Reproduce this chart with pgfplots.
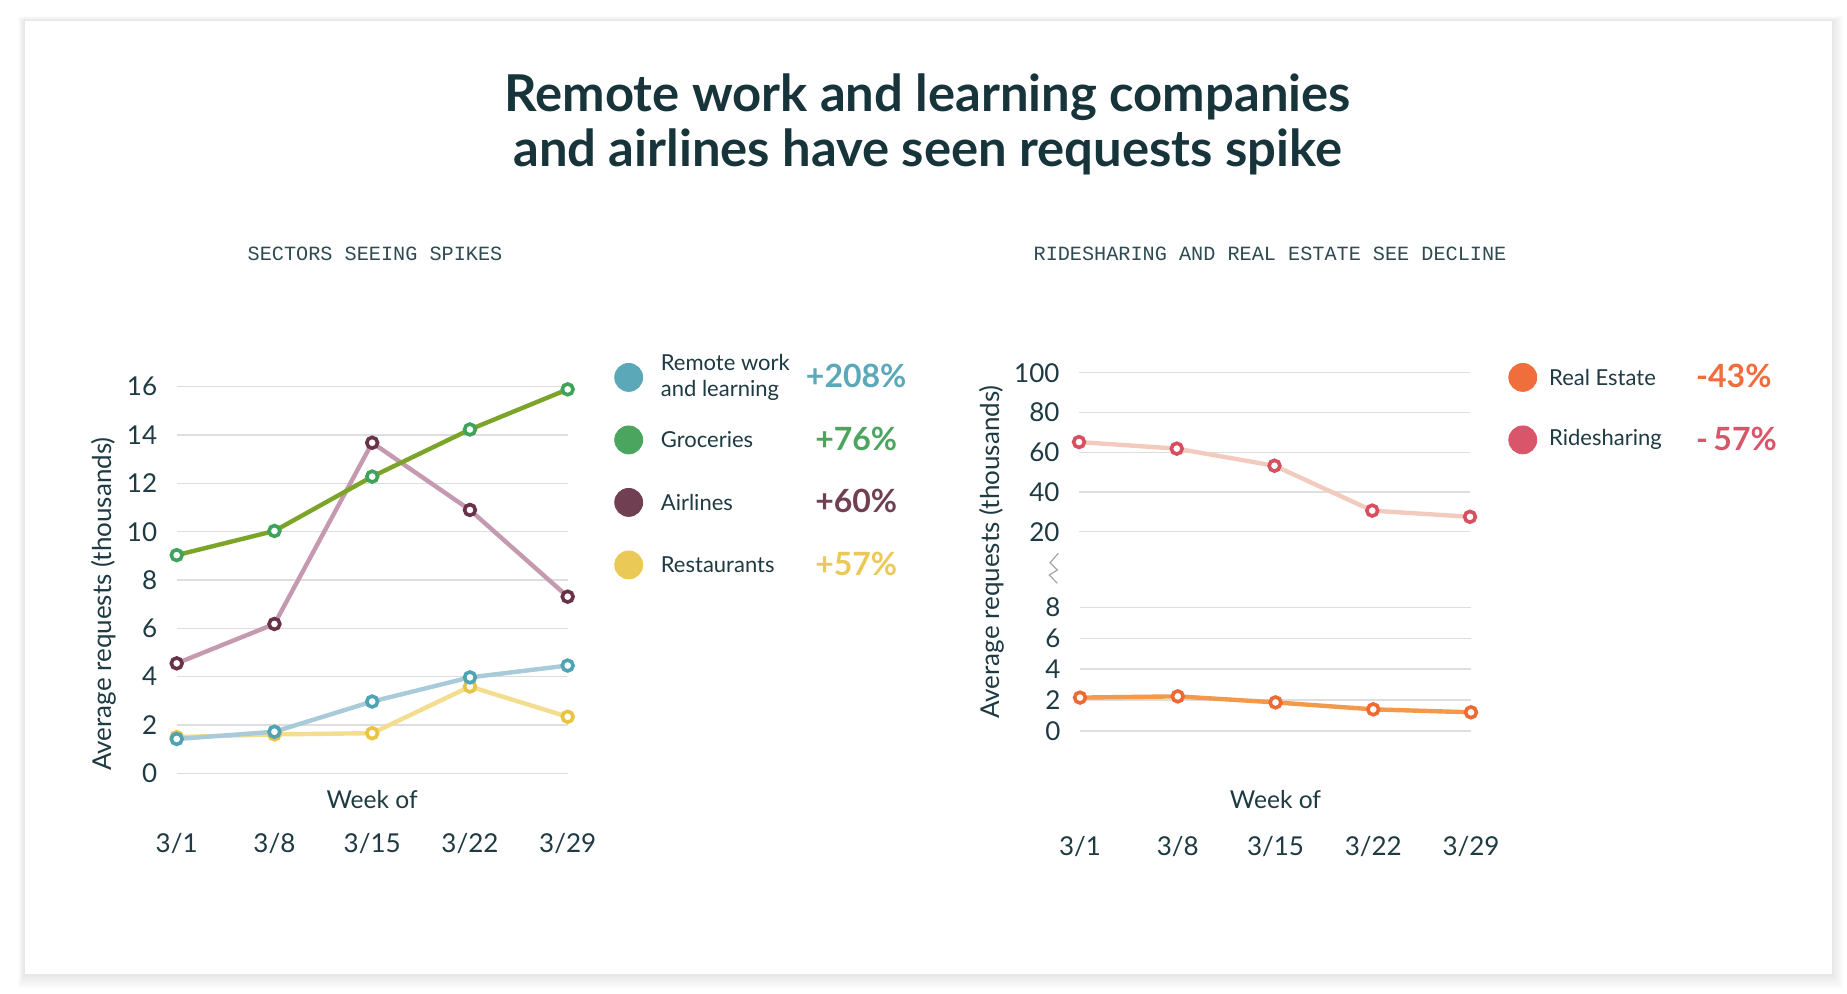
\documentclass[border=0pt]{standalone}
\usepackage{pgfplots}
\pgfplotsset{compat=1.18}
\usepackage{fontspec}
\setmainfont{Lato}
\newfontfamily\monofont{Liberation Mono}
\definecolor{cTitle}{HTML}{17343B}
\definecolor{cText}{HTML}{1E3A42}
\definecolor{cSub}{HTML}{2E4A52}
\definecolor{cGrid}{HTML}{DEDEDE}
\definecolor{remLine}{HTML}{A9CAD8}
\definecolor{remMark}{HTML}{4FA3B5}
\definecolor{remDot}{HTML}{5AA8B8}
\definecolor{groLine}{HTML}{7BA428}
\definecolor{groMark}{HTML}{3FA35C}
\definecolor{groDot}{HTML}{4BA55E}
\definecolor{airLine}{HTML}{C59AB0}
\definecolor{airMark}{HTML}{6A3249}
\definecolor{airDot}{HTML}{703F52}
\definecolor{resLine}{HTML}{F3DD8E}
\definecolor{resMark}{HTML}{E9C442}
\definecolor{resDot}{HTML}{EBC957}
\definecolor{reLine}{HTML}{F29A4A}
\definecolor{reMark}{HTML}{EF6A33}
\definecolor{reDot}{HTML}{EF6E3B}
\definecolor{riLine}{HTML}{F3CBBE}
\definecolor{riMark}{HTML}{D8505F}
\definecolor{riDot}{HTML}{D9566A}
% #1 label width, #2 label, #3 colour, #4 percent box width, #5 percent
\newcommand{\legtext}[5]{\parbox[c][31.25pt][c]{#1}{\fontsize{11}{13}\selectfont\color{cText}#2}\makebox[#4]{\raisebox{-2.6pt}{\textcolor{#3}{\fontsize{16}{16}\selectfont\bfseries #5}}}}
\pgfplotsset{
  common/.style={
    scale only axis, clip=false, xmin=0, xmax=4,
    ymajorgrids, grid style={cGrid, line width=0.7pt},
    axis line style={draw=none}, tick style={draw=none},
    tick label style={font=\fontsize{13}{13}\selectfont, text=cText},
    /pgf/number format/assume math mode=true,
    yticklabel style={anchor=east, inner sep=0pt, xshift=-9.6pt},
    xlabel style={font=\fontsize{12.3}{12.3}\selectfont, text=cText},
    ylabel style={font=\fontsize{13}{13}\selectfont, text=cText},
  },
  leg/.style n args={2}{legend style={at={#1}, anchor=north west, draw=none, fill=none, inner sep=0pt,
    row sep=0pt, column sep=#2, cells={anchor=west}, nodes={inner sep=0pt, text depth=, text height=}}},
  ser/.style n args={2}{color=#1, line width=2.2pt, mark=*, mark size=2.7pt,
    mark options={fill=white, draw=#2, line width=1.8pt}},
}
\begin{document}
\begin{tikzpicture}
\path[use as bounding box] (0,0) rectangle (923.5pt,496.5pt);
\fill[white] (0,0) rectangle (923.5pt,496.5pt);
\foreach \i in {1,...,8} {
  \fill[black, opacity=0.012] (12.5pt-\i*0.45pt, 9.5pt-\i*0.9pt) rectangle (916pt+\i*0.7pt, 486pt+\i*0.3pt);
}
\fill[white] (12.5pt,9.5pt) rectangle (916pt,486pt);
% title
\node[anchor=base, inner sep=0pt, text=cTitle, font=\fontsize{25.4}{28}\selectfont\bfseries] at (463.85pt,440.65pt) {Remote work and learning companies};
\node[anchor=base, inner sep=0pt, text=cTitle, font=\fontsize{25.4}{28}\selectfont\bfseries] at (463.85pt,413.5pt) {and airlines have seen requests spike};
\node[anchor=base, inner sep=0pt, text=cSub, font=\monofont\fontsize{10.1}{10.1}\selectfont] at (187.5pt,366.15pt) {SECTORS SEEING SPIKES};
\node[anchor=base, inner sep=0pt, text=cSub, font=\monofont\fontsize{10.1}{10.1}\selectfont] at (635pt,366.15pt) {RIDESHARING AND REAL ESTATE SEE DECLINE};

% left chart
\begin{axis}[common,
  at={(88.35pt,109.85pt)}, anchor=south west, width=195.5pt, height=193.3pt,
  ymin=0, ymax=16, ytick={0,2,...,16},
  xtick={0,...,4}, xticklabels={3/1,3/8,3/15,3/22,3/29},
  xticklabel style={anchor=center, inner sep=0pt, yshift=-35pt},
  xlabel={Week of}, xlabel style={at={(axis description cs:0.5,0)}, anchor=center, yshift=-13.35pt},
  ylabel={Average requests (thousands)}, ylabel style={at={(axis description cs:-0.1867,0.438)}, anchor=center},
  leg={(1.1182,1.1059)}{8.9pt},
]
\addplot[ser={resLine}{resMark}, forget plot] coordinates {(0,1.5) (1,1.61) (2,1.66) (3,3.59) (4,2.34)};
\addplot[ser={airLine}{airMark}, forget plot] coordinates {(0,4.55) (1,6.18) (2,13.68) (3,10.9) (4,7.31)};
\addplot[ser={remLine}{remMark}, forget plot] coordinates {(0,1.42) (1,1.72) (2,2.97) (3,3.97) (4,4.46)};
\addplot[ser={groLine}{groMark}, forget plot] coordinates {(0,9.03) (1,10.03) (2,12.28) (3,14.23) (4,15.89)};
\addlegendimage{legend image code/.code={\fill[remDot] (7pt,0pt) circle (7pt);}}
\addlegendentry{\legtext{76pt}{Remote work\newline and learning}{remDot}{43.3pt}{+208\%}}
\addlegendimage{legend image code/.code={\fill[groDot] (7pt,0pt) circle (7pt);}}
\addlegendentry{\legtext{76pt}{Groceries}{groDot}{43.3pt}{+76\%}}
\addlegendimage{legend image code/.code={\fill[airDot] (7pt,0pt) circle (7pt);}}
\addlegendentry{\legtext{76pt}{Airlines}{airDot}{43.3pt}{+60\%}}
\addlegendimage{legend image code/.code={\fill[resDot] (7pt,0pt) circle (7pt);}}
\addlegendentry{\legtext{76pt}{Restaurants}{resDot}{43.3pt}{+57\%}}
\end{axis}

% right upper
\begin{axis}[common,
  at={(539.5pt,230.65pt)}, anchor=south west, width=195.5pt, height=79.5pt,
  ymin=20, ymax=100, ytick={20,40,...,100}, xtick=\empty,
  ylabel={Average requests (thousands)}, ylabel style={at={(axis description cs:-0.2225,-0.1277)}, anchor=center},
  leg={(1.0972,1.1695)}{6pt},
]
\addplot[ser={riLine}{riMark}, forget plot] coordinates {(0,65.1) (1,61.8) (2,53.2) (3,30.6) (4,27.5)};
\addlegendimage{legend image code/.code={\fill[reDot] (7pt,0pt) circle (7pt);}}
\addlegendentry{\legtext{73.5pt}{Real Estate}{reDot}{0pt}{\rlap{-43\%}}}
\addlegendimage{legend image code/.code={\fill[riDot] (7pt,0pt) circle (7pt);}}
\addlegendentry{\legtext{73.5pt}{Ridesharing}{riDot}{0pt}{\rlap{-\,57\%}}}
\end{axis}

% right lower
\begin{axis}[common,
  at={(540pt,131pt)}, anchor=south west, width=195.5pt, height=61.85pt,
  ymin=0, ymax=8, ytick={0,2,...,8},
  xtick={0,...,4}, xticklabels={3/1,3/8,3/15,3/22,3/29},
  xticklabel style={anchor=center, inner sep=0pt, yshift=-57.8pt},
  xlabel={Week of}, xlabel style={at={(axis description cs:0.5,0)}, anchor=center, yshift=-34.5pt},
]
\addplot[ser={reLine}{reMark}, forget plot] coordinates {(0,2.16) (1,2.24) (2,1.85) (3,1.40) (4,1.21)};
\end{axis}

% axis break symbol
\draw[gray!70, line width=0.6pt] (529.15pt,219.85pt) -- (525pt,215.15pt) -- (528.65pt,211.5pt) -- (524.65pt,209pt) -- (528.65pt,204.85pt);
\end{tikzpicture}
\end{document}
